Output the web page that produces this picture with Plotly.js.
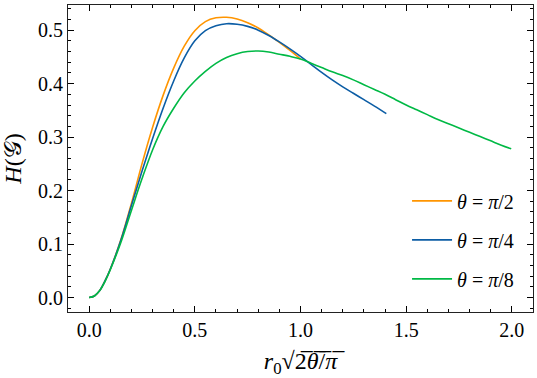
<!DOCTYPE html>
<html>
<head>
<meta charset="utf-8">
<script src="https://cdn.plot.ly/plotly-3.0.1.min.js"></script>
<style>
  html, body { margin: 0; padding: 0; background: #fff; }
  #plot { width: 537px; height: 378px; }
</style>
</head>
<body>
<div id="plot"></div>
<script>
// values
const xHalf = [0, 0.025, 0.05, 0.075, 0.1, 0.15, 0.2, 0.25, 0.3, 0.35, 0.4, 0.45, 0.5, 0.55, 0.6, 0.65, 0.7, 0.75, 0.8, 0.85, 0.9, 0.95, 1.0];
const yHalf = [0, 0.003, 0.013, 0.031, 0.053, 0.108, 0.176, 0.250, 0.318, 0.378, 0.429, 0.470, 0.499, 0.516, 0.523, 0.524, 0.521, 0.514, 0.504, 0.491, 0.477, 0.462, 0.446];

const xQuarter = [0, 0.025, 0.05, 0.075, 0.1, 0.15, 0.2, 0.25, 0.3, 0.35, 0.4, 0.45, 0.5, 0.55, 0.6, 0.65, 0.7, 0.75, 0.8, 0.85, 0.9, 0.95, 1.0, 1.05, 1.1, 1.15, 1.2, 1.25, 1.3, 1.35, 1.406];
const yQuarter = [0, 0.003, 0.013, 0.031, 0.053, 0.107, 0.172, 0.236, 0.297, 0.354, 0.405, 0.448, 0.480, 0.499, 0.508, 0.512, 0.511, 0.507, 0.500, 0.490, 0.478, 0.465, 0.451, 0.436, 0.421, 0.407, 0.394, 0.382, 0.370, 0.358, 0.344];

const xEighth = [0, 0.025, 0.05, 0.075, 0.1, 0.15, 0.2, 0.25, 0.3, 0.35, 0.4, 0.45, 0.5, 0.55, 0.6, 0.65, 0.7, 0.75, 0.8, 0.85, 0.9, 0.95, 1.0, 1.05, 1.1, 1.15, 1.2, 1.25, 1.3, 1.35, 1.4, 1.45, 1.5, 1.55, 1.6, 1.65, 1.7, 1.75, 1.8, 1.85, 1.9, 1.95, 1.997];
const yEighth = [0, 0.003, 0.013, 0.030, 0.052, 0.103, 0.163, 0.222, 0.276, 0.320, 0.354, 0.383, 0.405, 0.423, 0.438, 0.449, 0.456, 0.460, 0.461, 0.459, 0.455, 0.451, 0.446, 0.438, 0.430, 0.422, 0.415, 0.407, 0.398, 0.389, 0.380, 0.370, 0.360, 0.351, 0.342, 0.333, 0.325, 0.317, 0.309, 0.301, 0.293, 0.285, 0.278];

const seriesNames = ['<i>θ</i> = <i>π</i>/2', '<i>θ</i> = <i>π</i>/4', '<i>θ</i> = <i>π</i>/8'];
const colors = ['#FF9500', '#0C5DA5', '#00B945'];

const xTickVals = [0, 0.5, 1, 1.5, 2];
const xTickText = ['0.0', '0.5', '1.0', '1.5', '2.0'];
const yTickVals = [0, 0.1, 0.2, 0.3, 0.4, 0.5];
const yTickText = ['0.0', '0.1', '0.2', '0.3', '0.4', '0.5'];

const xs = [xHalf, xQuarter, xEighth];
const ys = [yHalf, yQuarter, yEighth];

const traces = xs.map((x, i) => ({
    x: x,
    y: ys[i],
    name: seriesNames[i],
    legendgroup: 'g' + i,
    type: 'scatter',
    mode: 'lines',
    line: { color: colors[i], width: 1.6, shape: 'spline', smoothing: 1 }
}));

const OL = '\u0305'; // combining overline for the square-root bar
const xTitle = '<i>r</i><sub>0</sub>√2' + OL + '<i>θ' + OL + '</i>/' + OL + '<i>π' + OL + '</i>';

const layout = {
    width: 537,
    height: 378,
    margin: { l: 68, r: 4, t: 5, b: 66 },
    font: { family: 'Liberation Serif', size: 20, color: '#000' },
    showlegend: true,
    xaxis: {
        showgrid: false, zeroline: false, showline: true, linecolor: '#222',
        mirror: 'allticks', ticks: 'inside', ticklen: 6, tickwidth: 1.3, tickcolor: '#000',
        range: [-0.1, 2.1], tickmode: 'array', tickvals: xTickVals, ticktext: xTickText,
        minor: { ticks: 'inside', tickmode: 'linear', tick0: 0, dtick: 0.1, ticklen: 3 },
        title: { text: xTitle }
    },
    yaxis: {
        showgrid: false, zeroline: false, showline: true, linecolor: '#222',
        mirror: 'allticks', ticks: 'inside', ticklen: 6, tickwidth: 1.3, tickcolor: '#000',
        range: [-0.027, 0.547], tickmode: 'array', tickvals: yTickVals, ticktext: yTickText,
        minor: { ticks: 'inside', tickmode: 'linear', tick0: 0, dtick: 0.02, ticklen: 3 },
        title: { text: '<i>H</i>(𝒢)' }
    },
    legend: {
        x: 0.97,
        y: 0.235,
        xanchor: 'right',
        yanchor: 'middle',
        bgcolor: 'rgba(0,0,0,0)',
        traceorder: 'grouped',
        tracegroupgap: 10,
        itemwidth: 40
    }
};

Plotly.newPlot('plot', traces, layout, { displayModeBar: false });
</script>
</body>
</html>
